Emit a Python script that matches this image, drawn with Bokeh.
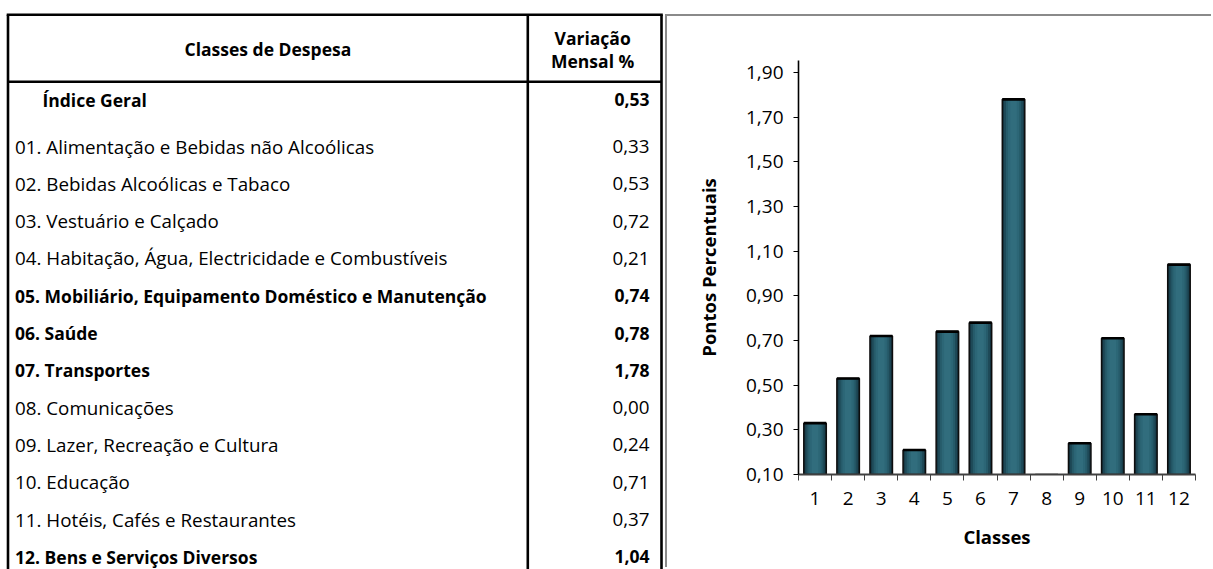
from bokeh.plotting import figure
from bokeh.models import Range1d, FixedTicker, CustomJSTickFormatter, ColumnDataSource
from bokeh.layouts import row
from bokeh.core.properties import value
from bokeh.embed import file_html
from bokeh.resources import INLINE

# ---------------- data ----------------
header_col1 = "Classes de Despesa"
header_col2 = ["Variação", "Mensal %"]
indice_label = "Índice Geral"
indice_value = 0.53
classes = [
    "01. Alimentação e Bebidas não Alcoólicas",
    "02. Bebidas Alcoólicas e Tabaco",
    "03. Vestuário e Calçado",
    "04. Habitação, Água, Electricidade e Combustíveis",
    "05. Mobiliário, Equipamento Doméstico e Manutenção",
    "06. Saúde",
    "07. Transportes",
    "08. Comunicações",
    "09. Lazer, Recreação e Cultura",
    "10. Educação",
    "11. Hotéis, Cafés e Restaurantes",
    "12. Bens e Serviços Diversos",
]
variacao = [0.33, 0.53, 0.72, 0.21, 0.74, 0.78, 1.78, 0.00, 0.24, 0.71, 0.37, 1.04]
bold_rows = [False, False, False, False, True, True, True, False, False, False, False, True]
class_numbers = ["1", "2", "3", "4", "5", "6", "7", "8", "9", "10", "11", "12"]
y_ticks = [0.10, 0.30, 0.50, 0.70, 0.90, 1.10, 1.30, 1.50, 1.70, 1.90]
y_axis_title = "Pontos Percentuais"
x_axis_title = "Classes"

FONT = "Open Sans"
SIZE_NORMAL = "18.8px"
SIZE_BOLD = "17.5px"


def fmt(v):
    return f"{v:.2f}".replace(".", ",")


# ---------------- table figure ----------------
W1, H = 665, 569
t = figure(width=W1, height=H, x_range=Range1d(0, W1), y_range=Range1d(H, 0),
           toolbar_location=None, output_backend="svg", min_border=0,
           x_axis_location=None, y_axis_location=None)
t.frame_align = False
t.grid.visible = False
t.outline_line_color = None

# table rules
LX, RX, TY, HY, CX = 7.5, 661, 14.3, 81.3, 527.3
t.segment(x0=[LX, LX - 1.3, RX, LX, CX], y0=[TY, TY, TY, HY, TY],
          x1=[LX, RX + 1.3, RX, RX, CX], y1=[H, TY, H, HY, H],
          line_color="black", line_width=2.6)

col1_x = (LX + CX) / 2
col2_x = (CX + RX) / 2 - 2
label_x = 14.5
value_x = 649
row0_y = 146
row_step = 37.3

# header
t.text(x=[col1_x], y=[48], text=[header_col1], text_font=value(FONT), text_font_size=SIZE_BOLD,
       text_font_style="bold", text_align="center", text_baseline="middle", text_color="black")
t.text(x=[col2_x, col2_x], y=[37, 60], text=header_col2, text_font=value(FONT), text_font_size=SIZE_BOLD,
       text_font_style="bold", text_align="center", text_baseline="middle", text_color="black")

# indice geral
t.text(x=[42], y=[99], text=[indice_label], text_font=value(FONT), text_font_size=SIZE_BOLD,
       text_font_style="bold", text_align="left", text_baseline="middle", text_color="black")
t.text(x=[value_x], y=[99], text=[fmt(indice_value)], text_font=value(FONT), text_font_size=SIZE_BOLD,
       text_font_style="bold", text_align="right", text_baseline="middle", text_color="black")

rows_y = [row0_y + i * row_step for i in range(len(classes))]
for style, flag, size in (("bold", True, SIZE_BOLD), ("normal", False, SIZE_NORMAL)):
    idx = [i for i, b in enumerate(bold_rows) if b == flag]
    src = ColumnDataSource(dict(
        lx=[label_x] * len(idx), vx=[value_x] * len(idx), y=[rows_y[i] for i in idx],
        lab=[classes[i] for i in idx], val=[fmt(variacao[i]) for i in idx]))
    t.text(x="lx", y="y", text="lab", source=src, text_font=value(FONT), text_font_size=size,
           text_font_style=style, text_align="left", text_baseline="middle", text_color="black")
    t.text(x="vx", y="y", text="val", source=src, text_font=value(FONT), text_font_size=size,
           text_font_style=style, text_align="right", text_baseline="middle", text_color="black")

# ---------------- chart figure ----------------
c = figure(width=546, height=553, x_range=Range1d(0.5, 12.5), y_range=Range1d(0.10, 1.954),
           toolbar_location=None, output_backend="svg",
           min_border_left=131, min_border_right=18, min_border_top=44, min_border_bottom=95)
c.frame_align = False
c.styles = {"border-top": "2px solid #8a8a8a", "border-left": "2px solid #8a8a8a",
            "margin-top": "14px"}
c.grid.visible = False
c.outline_line_color = None

BAR_W = 0.68
xs = list(range(1, len(variacao) + 1))
src = ColumnDataSource(dict(x=xs, top=variacao,
                            x0=[x - BAR_W / 2 for x in xs], x1=[x + BAR_W / 2 for x in xs]))
layer_widths = [BAR_W, 0.58, 0.46, 0.34, 0.20]
layer_colors = ["#153440", "#1e4957", "#265b6a", "#2c6676", "#316d7d"]
for w, col in zip(layer_widths, layer_colors):
    c.vbar(x="x", top="top", bottom=0, width=w, source=src, fill_color=col, line_color=None)
c.vbar(x="x", top="top", bottom=0, width=BAR_W, source=src, fill_color=None,
       line_color="#0d0d0d", line_width=1.5)
# darker top cap of each bar
c.segment(x0="x0", x1="x1", y0="top", y1="top", source=src, line_color="black", line_width=2.6)

# y axis
c.yaxis.ticker = FixedTicker(ticks=y_ticks, minor_ticks=[])
c.yaxis.formatter = CustomJSTickFormatter(code="return tick.toFixed(2).replace('.', ',');")
c.yaxis.major_tick_out = 5
c.yaxis.major_tick_in = 0
c.yaxis.minor_tick_out = 0
c.yaxis.minor_tick_in = 0
c.yaxis.axis_line_width = 1.6
c.yaxis.axis_line_color = "black"
c.yaxis.major_tick_line_color = "black"
c.yaxis.major_label_standoff = 10
c.yaxis.axis_label = y_axis_title
c.yaxis.axis_label_standoff = 22

# x axis
c.xaxis.ticker = FixedTicker(ticks=xs, minor_ticks=[i + 0.5 for i in range(0, 13)])
c.xaxis.major_label_overrides = {x: lab for x, lab in zip(xs, class_numbers)}
c.xaxis.major_tick_out = 0
c.xaxis.major_tick_in = 0
c.xaxis.minor_tick_out = 6
c.xaxis.minor_tick_in = 0
c.xaxis.minor_tick_line_color = "#404040"
c.xaxis.axis_line_color = "#404040"
c.xaxis.axis_line_width = 2
c.xaxis.major_label_standoff = 11
c.xaxis.axis_label = x_axis_title
c.xaxis.axis_label_standoff = 16

for ax in (c.xaxis, c.yaxis):
    ax.major_label_text_font = FONT
    ax.major_label_text_font_size = "19px"
    ax.major_label_text_color = "black"
    ax.axis_label_text_font = FONT
    ax.axis_label_text_font_size = "18.5px"
    ax.axis_label_text_font_style = "bold"
    ax.axis_label_text_color = "black"

layout = row(t, c)
open("out.html", "w").write(file_html(layout, INLINE))
